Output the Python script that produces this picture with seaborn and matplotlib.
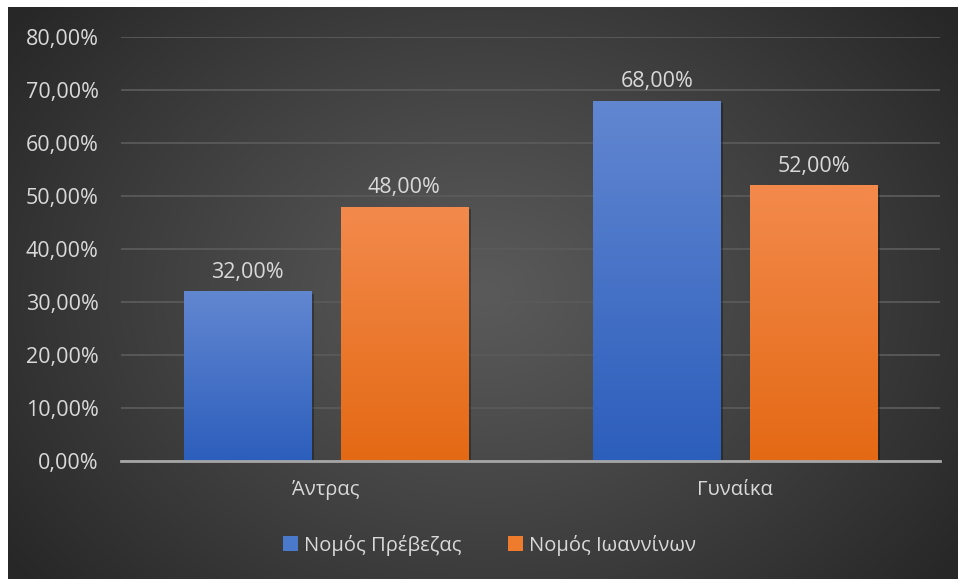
import numpy as np
import pandas as pd
import matplotlib
matplotlib.use('Agg')
import matplotlib.pyplot as plt
import seaborn as sns
from matplotlib.ticker import FuncFormatter, MultipleLocator
from matplotlib import patheffects as pe
from matplotlib.patches import Patch

categories = ['Άντρας', 'Γυναίκα']
series = ['Νομός Πρέβεζας', 'Νομός Ιωαννίνων']
preveza = [0.32, 0.68]
ioannina = [0.48, 0.52]

df = pd.DataFrame({
    'cat': categories * 2,
    'series': [series[0]] * 2 + [series[1]] * 2,
    'value': preveza + ioannina,
})

sns.set_theme(style='dark')
plt.rcParams['font.family'] = ['Open Sans', 'DejaVu Sans']
TXT = '#d9d9d9'
FS = 14.5
FSN = 15.5

W, H = 958, 579
fig = plt.figure(figsize=(W / 100, H / 100), dpi=100, facecolor='white')

# background radial gradient
bg = fig.add_axes([8 / W, 0, 950 / W, 572 / H])
h, w = 572, 950
yy, xx = np.mgrid[0:h, 0:w]
r = np.sqrt(((xx - w * 0.5) / (w * 0.62)) ** 2 + ((yy - h * 0.5) / (h * 0.8)) ** 2)
r = np.clip(r, 0, 1) ** 1.1
inner = np.array([0x5a, 0x5a, 0x5a]) / 255
outer = np.array([0x27, 0x27, 0x27]) / 255
img = inner + (outer - inner) * r[..., None]
bg.imshow(img, aspect='auto', interpolation='bilinear')
bg.axis('off')

ax = fig.add_axes([121 / W, 1 - 461 / H, 819 / W, 424 / H])
ax.set_facecolor('none')

colors = ['#4472c4', '#ed7d31']
sns.barplot(data=df, x='cat', y='value', hue='series', palette=colors,
            width=0.767, gap=0.19, ax=ax, legend=False, saturation=1,
            linewidth=0, edgecolor='none')

grads = {
    0: (np.array([0x62, 0x87, 0xd1]), np.array([0x2c, 0x5e, 0xbc])),
    1: (np.array([0xf3, 0x8a, 0x4c]), np.array([0xe4, 0x69, 0x14])),
}
bars = [p for p in ax.patches]
for i, p in enumerate(bars):
    s = 0 if i < 2 else 1
    top, bot = grads[s]
    t = np.linspace(0, 1, 256)[:, None]
    col = (top[None, :] * (1 - t) + bot[None, :] * t) / 255
    col = col[:, None, :]
    x, y = p.get_x(), p.get_y()
    bw, bh = p.get_width(), p.get_height()
    p.set_linewidth(0)
    p.set_path_effects([pe.SimplePatchShadow(offset=(2, -2), alpha=0.3, shadow_rgbFace='black'), pe.Normal()])
    im = ax.imshow(col, extent=[x, x + bw, y, y + bh], aspect='auto', zorder=p.get_zorder() + 0.1, interpolation='bilinear')
    im.set_clip_path(p)

ax.set_xlim(-0.5, 1.5)
ax.set_ylim(0, 0.8)
ax.yaxis.set_major_locator(MultipleLocator(0.1))
fmt = lambda v, pos=None: f'{v * 100:.2f}%'.replace('.', ',')
ax.yaxis.set_major_formatter(FuncFormatter(fmt))
ax.grid(axis='y', color='#5a5a5a', lw=1.3)
ax.grid(axis='x', visible=False)
ax.set_axisbelow(True)
for s in ['top', 'left', 'right']:
    ax.spines[s].set_visible(False)
ax.spines['bottom'].set_color('#a6a6a6')
ax.spines['bottom'].set_linewidth(2)
ax.spines['bottom'].set_zorder(5)
ax.tick_params(axis='y', colors=TXT, labelsize=FSN, length=0, pad=16)
ax.tick_params(axis='x', colors=TXT, labelsize=FS, length=0, pad=14)
ax.set_xlabel('')
ax.set_ylabel('')

vals = [preveza, ioannina]
for i, p in enumerate(bars):
    s = 0 if i < 2 else 1
    v = vals[s][i % 2]
    ax.annotate(fmt(v), (p.get_x() + p.get_width() / 2, v), xytext=(0, 6),
                textcoords='offset points', ha='center', va='bottom',
                color=TXT, fontsize=FSN, annotation_clip=False)

handles = [Patch(facecolor=c, edgecolor='none') for c in ['#4a78cb', '#ef7b2c']]
fig.legend(handles, series, loc='center', bbox_to_anchor=(0.511, 1 - 545 / H), ncol=2,
           frameon=False, fontsize=FS, labelcolor=TXT, handlelength=0.75, handleheight=0.75,
           handletextpad=0.3, columnspacing=2.3)

fig.savefig('out.png', dpi=100, facecolor='white')
